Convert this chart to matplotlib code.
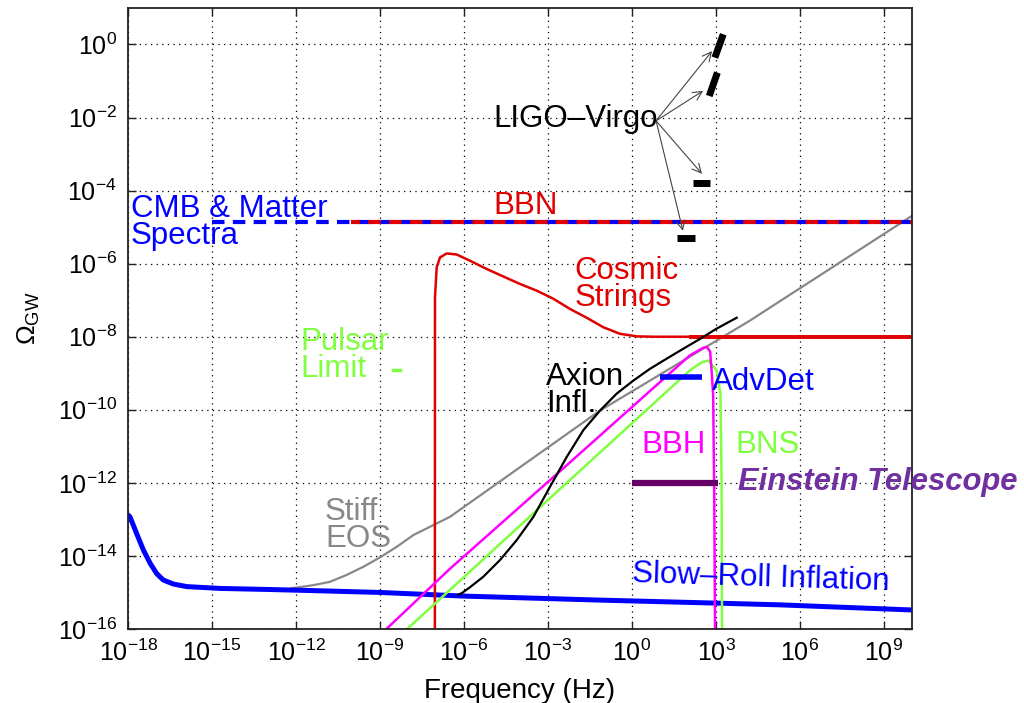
import matplotlib
matplotlib.use("Agg")
import matplotlib.pyplot as plt
import numpy as np
from matplotlib.ticker import FixedLocator, LogFormatterMathtext, NullLocator

plt.rcParams['font.family'] = ['Liberation Sans', 'DejaVu Sans']
plt.rcParams['mathtext.fontset'] = 'custom'
plt.rcParams['mathtext.rm'] = 'Liberation Sans'
plt.rcParams['mathtext.it'] = 'Liberation Sans:italic'
plt.rcParams['mathtext.bf'] = 'Liberation Sans:bold'

# values are log10(frequency / Hz) and log10(Omega_GW)
slowroll_lf = [-18, -17.93, -17.69, -17.45, -17.21, -16.98, -16.74, -16.38, -15.9, -14.71,
               -12.93, -11.38, -9, -6, -1.14, 2.9, 5.3, 10]
slowroll_lo = [-12.88, -12.93, -13.39, -13.84, -14.2, -14.48, -14.66, -14.77, -14.84, -14.89,
               -14.92, -14.95, -15.0, -15.1, -15.21, -15.29, -15.34, -15.48]

stiff_lf = [-12.2, -11.38, -10.79, -10.19, -9.6, -9.0, -8.4, -7.81, -6.5, -1.14, 4.21, 10.0]
stiff_lo = [-14.89, -14.8, -14.71, -14.52, -14.3, -14.04, -13.75, -13.43, -12.93, -10.02, -7.56, -4.69]

strings_lf = [-7.04, -7.036, -6.975, -6.857, -6.618, -6.26, -5.786, -5.19, -4.6, -4.0, -3.4,
              -2.81, -2.214, -1.618, -1.025, -0.43, 0.168, 0.76, 10]
strings_lo = [-16.5, -6.92, -6.1, -5.83, -5.72, -5.75, -5.92, -6.145, -6.35, -6.555, -6.74,
              -6.96, -7.24, -7.48, -7.74, -7.92, -7.99, -8.0, -8.0]
plateau_lf = [2.1, 10]
plateau_lo = [-8.0, -8.0]

bbn_lf = [-10.04, 10]
bbn_lo = [-4.87, -4.87]
cmb_lf = [-15.0, 10]
cmb_lo = [-4.87, -4.87]

axion_lf = [-6.2, -6.08, -5.79, -5.31, -4.71, -4.12, -3.52, -2.93, -2.33, -1.74, -1.14, -0.55,
            0.05, 0.64, 1.24, 1.83, 2.43, 3.02, 3.74]
axion_lo = [-15.06, -15.02, -14.86, -14.57, -14.11, -13.57, -12.93, -12.11, -11.29, -10.56,
            -10.02, -9.56, -9.2, -8.88, -8.6, -8.33, -8.06, -7.78, -7.48]

bbh_lf = [-8.77, -6.5, -2.45, 2.07, 2.55, 2.67, 2.79, 2.85, 2.9, 2.94, 2.97]
bbh_lo = [-16.0, -14.35, -11.6, -8.51, -8.3, -8.28, -8.4, -9.0, -9.6, -12.5, -16.5]

bns_lf = [-8.03, -6.5, -3.53, 2.07, 2.49, 2.73, 3.02, 3.16, 3.2, 3.22]
bns_lo = [-16.0, -14.93, -12.84, -8.92, -8.7, -8.65, -8.92, -9.56, -12.0, -16.5]

pulsar_lf = [-8.55, -8.3]
pulsar_lo = [-8.92, -8.92]

advdet_lf = [1.0, 2.5]
advdet_lo = [-9.11, -9.11]

et_lf = [0.0, 3.07]
et_lo = [-12.0, -12.0]

# LIGO-Virgo bounds: (start, end) of each thick mark
ligo_marks = [
    ([2.96, 3.26], [-0.36, 0.28]),
    ([2.76, 3.05], [-1.41, -0.77]),
    ([2.18, 2.79], [-3.79, -3.79]),
    ([1.61, 2.25], [-5.29, -5.29]),
]
ligo_origin = (0.86, -2.09)
ligo_tips = [(2.86, -0.18), (2.54, -1.27), (2.5, -3.54), (1.82, -5.10)]

x_ticks = [-18, -15, -12, -9, -6, -3, 0, 3, 6, 9]
y_ticks = [-16, -14, -12, -10, -8, -6, -4, -2, 0]


def p(lf, lo):
    return 10.0 ** np.array(lf), 10.0 ** np.array(lo)


fig = plt.figure(figsize=(10.24, 7.03), dpi=100)
ax = fig.add_axes([0.125, 0.1053, 0.7656, 0.8834])
ax.set_xscale('log')
ax.set_yscale('log')
ax.set_xlim(1e-18, 1e10)
ax.set_ylim(1e-16, 10)

blue = '#0000ff'
red = '#e00000'
green = '#80ff40'
magenta = '#ff00ff'

ax.plot(*p(stiff_lf, stiff_lo), color='#888888', lw=1.6)
ax.plot(*p(slowroll_lf, slowroll_lo), color=blue, lw=3.6, solid_joinstyle='round')
ax.plot(*p(strings_lf, strings_lo), color=red, lw=1.8)
ax.plot(*p(plateau_lf, plateau_lo), color=red, lw=2.8)
# red dashes sit in the gaps of the blue ones
ax.plot(*p(cmb_lf, cmb_lo), color=blue, lw=3, linestyle=(0, (3, 2)), dash_capstyle='butt')
ax.plot(*p(bbn_lf, bbn_lo), color=red, lw=3, linestyle=(0.87, (3, 2)), dash_capstyle='butt')
ax.plot(*p(bns_lf, bns_lo), color=green, lw=1.8)
ax.plot(*p(bbh_lf, bbh_lo), color=magenta, lw=1.8)
ax.plot(*p(axion_lf, axion_lo), color='black', lw=1.6)
ax.plot(*p(pulsar_lf, pulsar_lo), color=green, lw=2.5)
ax.plot(*p(advdet_lf, advdet_lo), color=blue, lw=4, solid_capstyle='butt')
ax.plot(*p(et_lf, et_lo), color='#660066', lw=4.5, solid_capstyle='butt')

for mx, my in ligo_marks:
    ax.plot(*p(mx, my), color='black', lw=5, solid_capstyle='butt')
for tx, ty in ligo_tips:
    ax.annotate('', xy=(10 ** tx, 10 ** ty), xytext=(10 ** ligo_origin[0], 10 ** ligo_origin[1]),
                arrowprops=dict(arrowstyle='->', color='#444444', lw=0.8,
                                mutation_scale=16, shrinkA=0, shrinkB=0))

fs = 22.5
ax.text(10 ** -17.9, 10 ** -4.88, 'CMB & Matter\nSpectra', color=blue, fontsize=fs,
        ha='left', va='center', linespacing=0.88)
ax.text(10 ** -4.96, 10 ** -4.42, 'BBN', color=red, fontsize=fs, ha='left', va='center')
ax.text(10 ** -2.04, 10 ** -6.57, 'Cosmic\nStrings', color=red, fontsize=fs,
        ha='left', va='center', linespacing=0.88)
ax.text(10 ** -11.86, 10 ** -8.51, 'Pulsar\nLimit', color=green, fontsize=fs,
        ha='left', va='center', linespacing=0.88)
ax.text(10 ** -3.07, 10 ** -9.47, 'Axion\nInfl.', color='black', fontsize=fs,
        ha='left', va='center', linespacing=0.88)
ax.text(10 ** 2.857, 10 ** -9.25, 'AdvDet', color=blue, fontsize=fs, ha='left', va='center')
ax.text(10 ** 0.32, 10 ** -10.97, 'BBH', color=magenta, fontsize=fs, ha='left', va='center')
ax.text(10 ** 3.68, 10 ** -10.97, 'BNS', color=green, fontsize=fs, ha='left', va='center')
ax.text(10 ** 3.77, 10 ** -11.98, 'Einstein Telescope', color='#7030a0', fontsize=22.3,
        fontweight='bold', fontstyle='italic', ha='left', va='center', clip_on=False)
ax.text(10 ** -10.96, 10 ** -13.16, 'Stiff\nEOS', color='#888888', fontsize=fs,
        ha='left', va='center', linespacing=0.88)
ax.text(10 ** -4.96, 10 ** -2.04, 'LIGO\u2013Virgo', color='black', fontsize=fs,
        ha='left', va='center')
ax.text(10 ** 0.0, 10 ** -14.6, 'Slow\u2013Roll Inflation', color=blue, fontsize=fs,
        ha='left', va='center', rotation=-1.8)

ax.xaxis.set_major_locator(FixedLocator([10.0 ** e for e in x_ticks]))
ax.yaxis.set_major_locator(FixedLocator([10.0 ** e for e in y_ticks]))
ax.xaxis.set_minor_locator(NullLocator())
ax.yaxis.set_minor_locator(NullLocator())
ax.xaxis.set_major_formatter(LogFormatterMathtext())
ax.yaxis.set_major_formatter(LogFormatterMathtext())
ax.tick_params(which='major', direction='in', length=6, width=1, top=True, right=True,
               labelsize=18, pad=8, color='#222222')
ax.grid(True, color='black', linestyle=(0, (1, 3.5)), lw=0.9)
ax.set_axisbelow(True)
for s in ax.spines.values():
    s.set_linewidth(1.3)
    s.set_color('#222222')

ax.set_xlabel('Frequency (Hz)', fontsize=20)
ax.xaxis.set_label_coords(0.5, -0.079)
ax.set_ylabel(r'$\Omega_{\mathrm{GW}}$', fontsize=19)
ax.yaxis.set_label_coords(-0.11, 0.5)

fig.savefig('out.png', dpi=100)
